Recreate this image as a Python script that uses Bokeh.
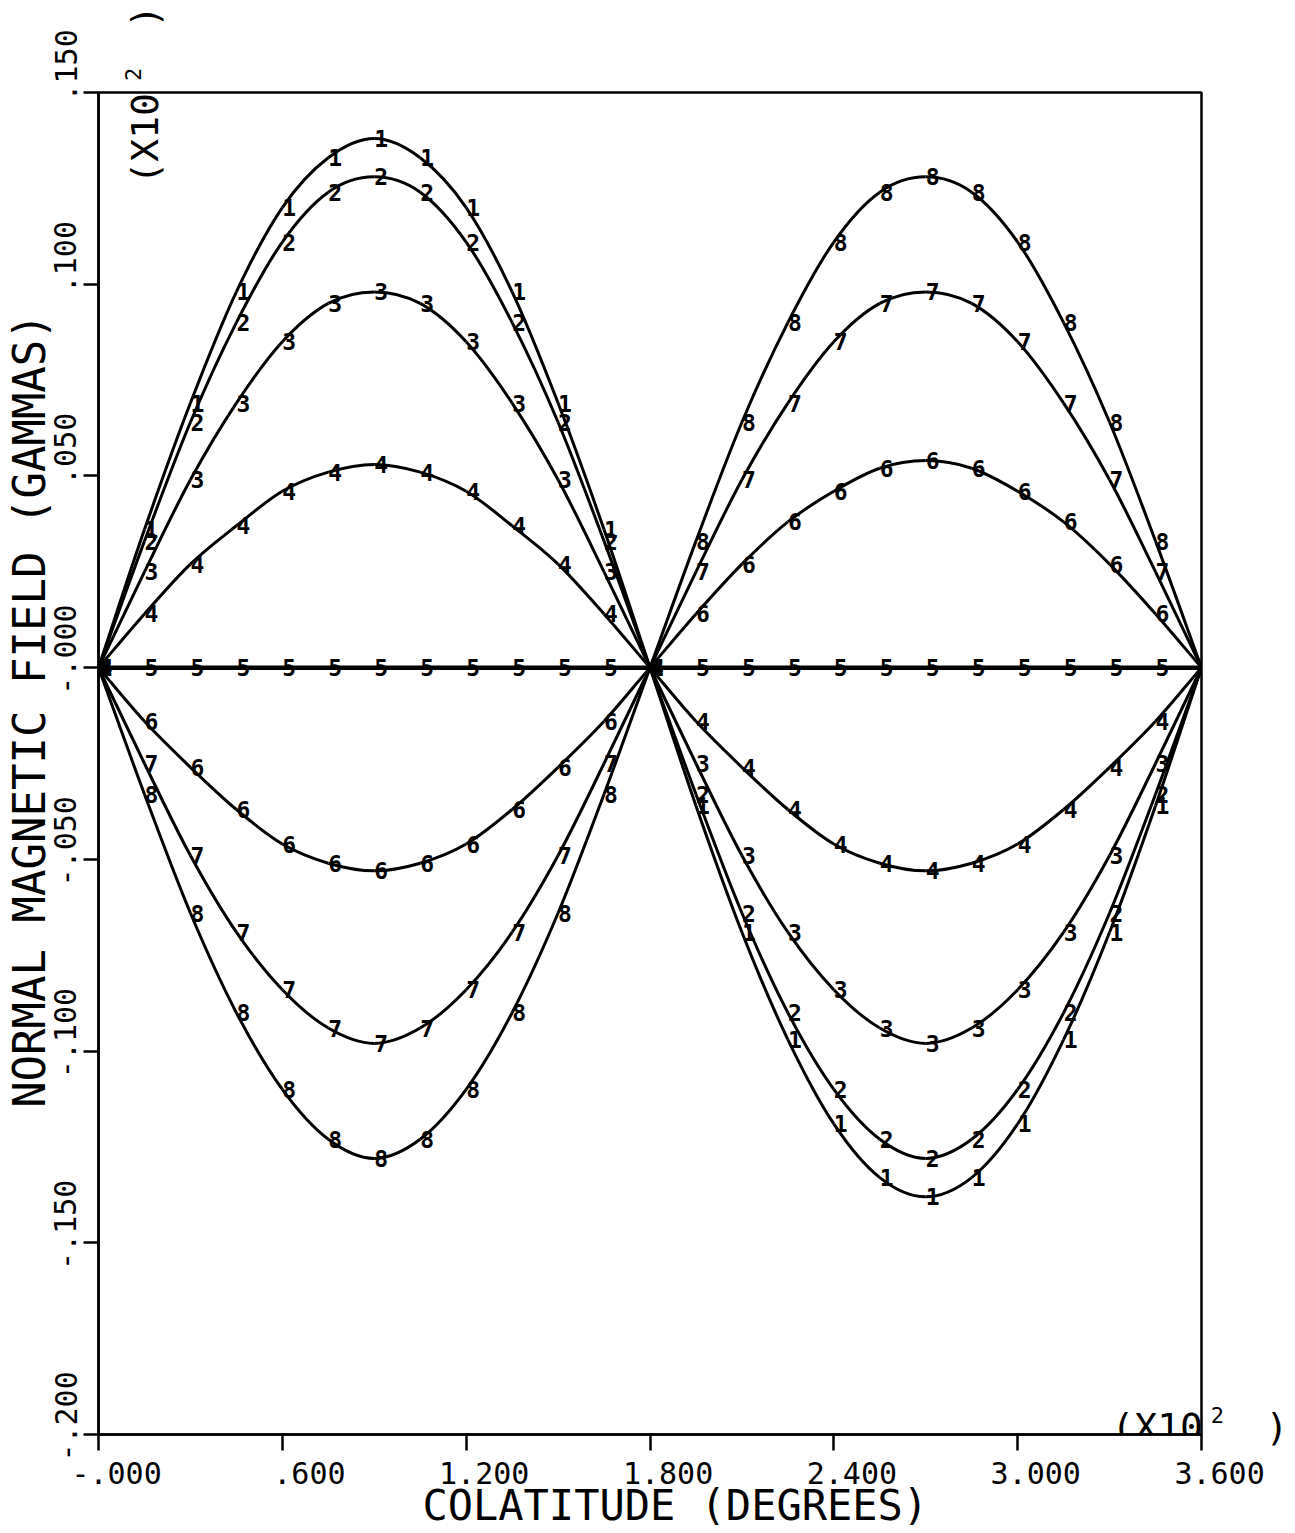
import numpy as np
from bokeh.plotting import figure
from bokeh.models import Range1d, FixedTicker, Label, Span, ColumnDataSource
from bokeh.core.properties import value
from bokeh.embed import file_html
from bokeh.resources import INLINE

# ---------------- data (colatitude in units of 10^2 degrees, field in 10^2 gammas)
colatitude = [0.00, 0.15, 0.30, 0.45, 0.60, 0.75, 0.90, 1.05, 1.20, 1.35, 1.50, 1.65,
              1.80, 1.95, 2.10, 2.25, 2.40, 2.55, 2.70, 2.85, 3.00, 3.15, 3.30, 3.45, 3.60]

curve1 = [0.000, 0.036, 0.069, 0.098, 0.120, 0.133, 0.138, 0.133, 0.120, 0.098, 0.069, 0.036,
          0.000, -0.036, -0.069, -0.097, -0.119, -0.133, -0.138, -0.133, -0.119, -0.097, -0.069, -0.036, 0.000]
curve2 = [0.000, 0.033, 0.064, 0.090, 0.111, 0.124, 0.128, 0.124, 0.111, 0.090, 0.064, 0.033,
          0.000, -0.033, -0.064, -0.090, -0.110, -0.123, -0.128, -0.123, -0.110, -0.090, -0.064, -0.033, 0.000]
curve3 = [0.000, 0.025, 0.049, 0.069, 0.085, 0.095, 0.098, 0.095, 0.085, 0.069, 0.049, 0.025,
          0.000, -0.025, -0.049, -0.069, -0.084, -0.094, -0.098, -0.094, -0.084, -0.069, -0.049, -0.025, 0.000]
curve4 = [0.000, 0.014, 0.027, 0.037, 0.046, 0.051, 0.053, 0.051, 0.046, 0.037, 0.027, 0.014,
          0.000, -0.014, -0.026, -0.037, -0.046, -0.051, -0.053, -0.051, -0.046, -0.037, -0.026, -0.014, 0.000]
curve5 = [0.000, 0.000, 0.000, 0.000, 0.000, 0.000, 0.000, 0.000, 0.000, 0.000, 0.000, 0.000,
          0.000, 0.000, 0.000, 0.000, 0.000, 0.000, 0.000, 0.000, 0.000, 0.000, 0.000, 0.000, 0.000]
curve6 = [0.000, -0.014, -0.026, -0.037, -0.046, -0.051, -0.053, -0.051, -0.046, -0.037, -0.026, -0.014,
          0.000, 0.014, 0.027, 0.038, 0.046, 0.052, 0.054, 0.052, 0.046, 0.038, 0.027, 0.014, 0.000]
curve7 = [0.000, -0.025, -0.049, -0.069, -0.084, -0.094, -0.098, -0.094, -0.084, -0.069, -0.049, -0.025,
          0.000, 0.025, 0.049, 0.069, 0.085, 0.095, 0.098, 0.095, 0.085, 0.069, 0.049, 0.025, 0.000]
curve8 = [0.000, -0.033, -0.064, -0.090, -0.110, -0.123, -0.128, -0.123, -0.110, -0.090, -0.064, -0.033,
          0.000, 0.033, 0.064, 0.090, 0.111, 0.124, 0.128, 0.124, 0.111, 0.090, 0.064, 0.033, 0.000]

curve_names = ["1", "2", "3", "4", "5", "6", "7", "8"]
curves = [curve1, curve2, curve3, curve4, curve5, curve6, curve7, curve8]

x_tick_values = [0.0, 0.6, 1.2, 1.8, 2.4, 3.0, 3.6]
x_tick_labels = ["-.000", ".600", "1.200", "1.800", "2.400", "3.000", "3.600"]
y_tick_values = [-0.2, -0.15, -0.1, -0.05, 0.0, 0.05, 0.1, 0.15]
y_tick_labels = ["-.200", "-.150", "-.100", "-.050", "-.000", ".050", ".100", ".150"]

x_title = "COLATITUDE (DEGREES)"
y_title = "NORMAL MAGNETIC FIELD (GAMMAS)"

FONT = "DejaVu Sans Mono"
NB = "\u00a0"


def pad_decimal(s):
    # put the decimal point of a monospace label at the tick position
    k = s.index(".")
    m = len(s) - 2 * k - 1
    return NB * max(m, 0) + s


# ---------------- figure
p = figure(frame_width=1103, frame_height=1342,
           x_range=Range1d(0, 3.6), y_range=Range1d(-0.2, 0.15),
           output_backend="svg", toolbar_location=None,
           min_border_left=92, min_border_right=90, min_border_top=92, min_border_bottom=60)
p.background_fill_color = "white"
p.border_fill_color = "white"
p.grid.visible = False
p.outline_line_color = "black"
p.outline_line_width = 2.5
p.outline_line_alpha = 1.0

for ax in (p.xaxis[0], p.yaxis[0]):
    ax.axis_line_width = 2.5
    ax.axis_line_color = "black"
    ax.major_tick_line_width = 2.5
    ax.major_tick_line_color = "black"
    ax.major_tick_in = 0
    ax.minor_tick_line_color = None
    ax.major_label_text_font = FONT
    ax.major_label_text_font_size = "30px"
    ax.major_label_text_color = "black"
    ax.axis_label_text_font = FONT
    ax.axis_label_text_font_style = "normal"
    ax.axis_label_text_color = "black"

p.xaxis.ticker = FixedTicker(ticks=x_tick_values)
p.xaxis.major_label_overrides = {v: pad_decimal(s) for v, s in zip(x_tick_values, x_tick_labels)}
p.xaxis.major_tick_out = 16
p.xaxis.major_label_standoff = 5
p.xaxis.axis_label = NB * 2 + x_title
p.xaxis.axis_label_text_font_size = "42px"
p.xaxis.axis_label_standoff = -13

p.yaxis.ticker = FixedTicker(ticks=y_tick_values)
p.yaxis.major_label_overrides = {v: pad_decimal(s) for v, s in zip(y_tick_values, y_tick_labels)}
p.yaxis.major_label_orientation = "vertical"
p.yaxis.major_tick_out = 15
p.yaxis.major_label_standoff = 0
p.yaxis.axis_label = NB * 4 + y_title
p.yaxis.axis_label_text_font_size = "44px"
p.yaxis.axis_label_standoff = -9

# zero line (drawn heavier in the original)
p.add_layout(Span(location=0, dimension="width", line_color="black", line_width=4.5))

# ---------------- curves: smooth Catmull-Rom bezier through the read points
xs = np.array(colatitude, dtype=float)
for name, ys_list in zip(curve_names, curves):
    ys = np.array(ys_list, dtype=float)
    xe = np.concatenate([[2 * xs[0] - xs[1]], xs, [2 * xs[-1] - xs[-2]]])
    ye = np.concatenate([[2 * ys[0] - ys[1]], ys, [2 * ys[-1] - ys[-2]]])
    n = len(xs) - 1
    x0 = xe[1:n + 1]; y0 = ye[1:n + 1]
    x1 = xe[2:n + 2]; y1 = ye[2:n + 2]
    cx0 = x0 + (xe[2:n + 2] - xe[0:n]) / 6.0
    cy0 = y0 + (ye[2:n + 2] - ye[0:n]) / 6.0
    cx1 = x1 - (xe[3:n + 3] - xe[1:n + 1]) / 6.0
    cy1 = y1 - (ye[3:n + 3] - ye[1:n + 1]) / 6.0
    p.bezier(x0=x0, y0=y0, x1=x1, y1=y1, cx0=cx0, cy0=cy0, cx1=cx1, cy1=cy1,
             line_color="black", line_width=3)

    src = ColumnDataSource(dict(x=xs, y=ys, label=[name] * len(xs)))
    p.text(x="x", y="y", text="label", source=src,
           text_align="left", text_baseline="alphabetic",
           text_font=value(FONT), text_font_size="23px", text_font_style="bold",
           text_color="black")

# ---------------- scale factor notes "(X10^2 )"
note_kw = dict(text_font=FONT, text_color="black")
# inside the frame
p.add_layout(Label(x=0.153, y=0.126, text="(X10", angle=np.pi / 2,
                   text_align="left", text_baseline="alphabetic",
                   text_font_size="38px", **note_kw))
p.add_layout(Label(x=3.306, y=-0.198, text="(X10",
                   text_align="left", text_baseline="alphabetic",
                   text_font_size="38px", **note_kw))
# parts that stand outside the frame go into side panels (not clipped)
p.add_layout(Label(x=0.114, y=0.1547, text="2", angle=np.pi / 2,
                   text_align="center", text_baseline="alphabetic",
                   text_font_size="22px", **note_kw), "above")
p.add_layout(Label(x=0.153, y=0.1698, text=")", angle=np.pi / 2,
                   text_align="center", text_baseline="alphabetic",
                   text_font_size="38px", **note_kw), "above")
p.add_layout(Label(x=3.652, y=-0.1948, text="2",
                   text_align="center", text_baseline="alphabetic",
                   text_font_size="22px", **note_kw), "right")
p.add_layout(Label(x=3.846, y=-0.198, text=")",
                   text_align="center", text_baseline="alphabetic",
                   text_font_size="38px", **note_kw), "right")

open("out.html", "w").write(file_html(p, INLINE))
